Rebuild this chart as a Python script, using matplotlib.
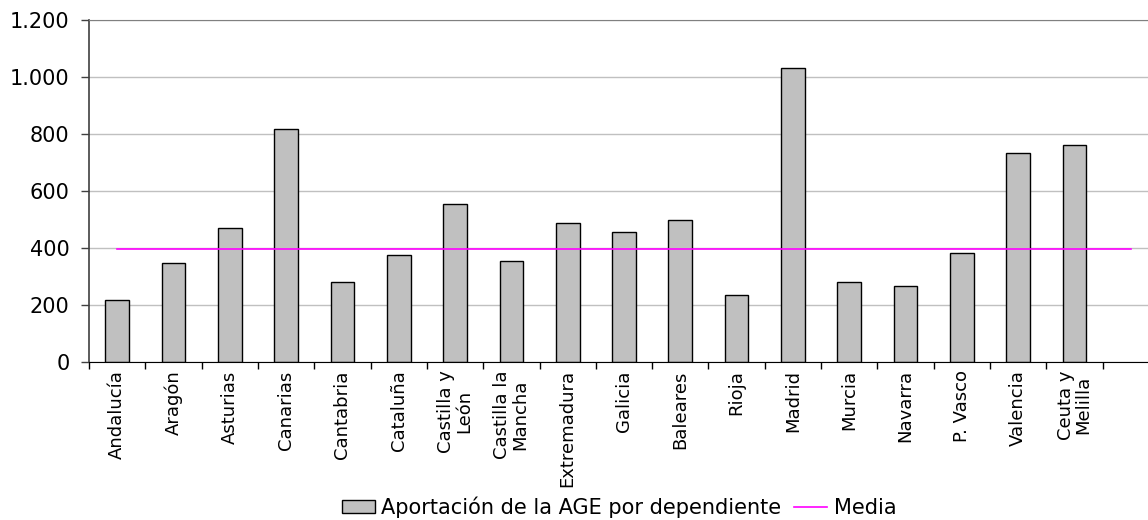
import numpy as np
import matplotlib.pyplot as plt
from matplotlib.patches import Patch
from matplotlib.lines import Line2D
from matplotlib.ticker import FuncFormatter

plt.rcParams['font.family'] = ['DejaVu Sans']

# datos
regiones = ['Andalucía', 'Aragón', 'Asturias', 'Canarias', 'Cantabria', 'Cataluña',
            'Castilla y\nLeón', 'Castilla la\nMancha', 'Extremadura', 'Galicia',
            'Baleares', 'Rioja', 'Madrid', 'Murcia', 'Navarra', 'P. Vasco',
            'Valencia', 'Ceuta y\nMelilla', '']
aportacion = [218, 347, 471, 818, 281, 376, 555, 355, 487, 457,
              500, 236, 1033, 282, 268, 381, 733, 761]
media = [396] * 19

fig = plt.figure(figsize=(11.48, 5.2), dpi=100)
ax = fig.add_axes([89/1148, 158/520, 1070/1148, 342/520])

x = np.arange(len(regiones))
ax.bar(x[:len(aportacion)], aportacion, width=0.42, color='#C0C0C0',
       edgecolor='black', linewidth=1.0, zorder=2)
ax.plot(x, media, color='#FF00FF', linewidth=1.2, zorder=3)

ax.set_xlim(-0.5, 18.5)
ax.set_ylim(0, 1200)
ax.set_yticks(range(0, 1201, 200))
ax.yaxis.set_major_formatter(FuncFormatter(lambda v, p: f'{int(v):,}'.replace(',', '.')))
ax.tick_params(axis='y', labelsize=15, length=6, width=1, color='#404040', pad=8)
ax.grid(axis='y', color='#C0C0C0', linewidth=1, zorder=0)

ax.set_xticks(x)
ax.set_xticklabels(regiones, rotation=90, fontsize=13, va='top', ha='center',
                   linespacing=1.0)
ax.tick_params(axis='x', which='major', length=0, pad=6)
ax.set_xticks(np.arange(-0.5, 19, 1), minor=True)
ax.tick_params(axis='x', which='minor', length=5, width=1, color='black')

ax.spines['right'].set_visible(False)
ax.spines['top'].set_color('#808080')
ax.spines['left'].set_color('#404040')
ax.spines['left'].set_linewidth(1.2)
ax.spines['bottom'].set_color('black')

handles = [Patch(facecolor='#C0C0C0', edgecolor='black', linewidth=1.0),
           Line2D([0], [0], color='#FF00FF', linewidth=1.2)]
fig.legend(handles, ['Aportación de la AGE por dependiente', 'Media'],
           loc='center', bbox_to_anchor=(619/1148, 1 - 507/520), ncol=2,
           frameon=False, fontsize=15, handlelength=1.6, handleheight=0.55,
           handletextpad=0.3, columnspacing=0.6)

fig.savefig('out.png', dpi=100)
